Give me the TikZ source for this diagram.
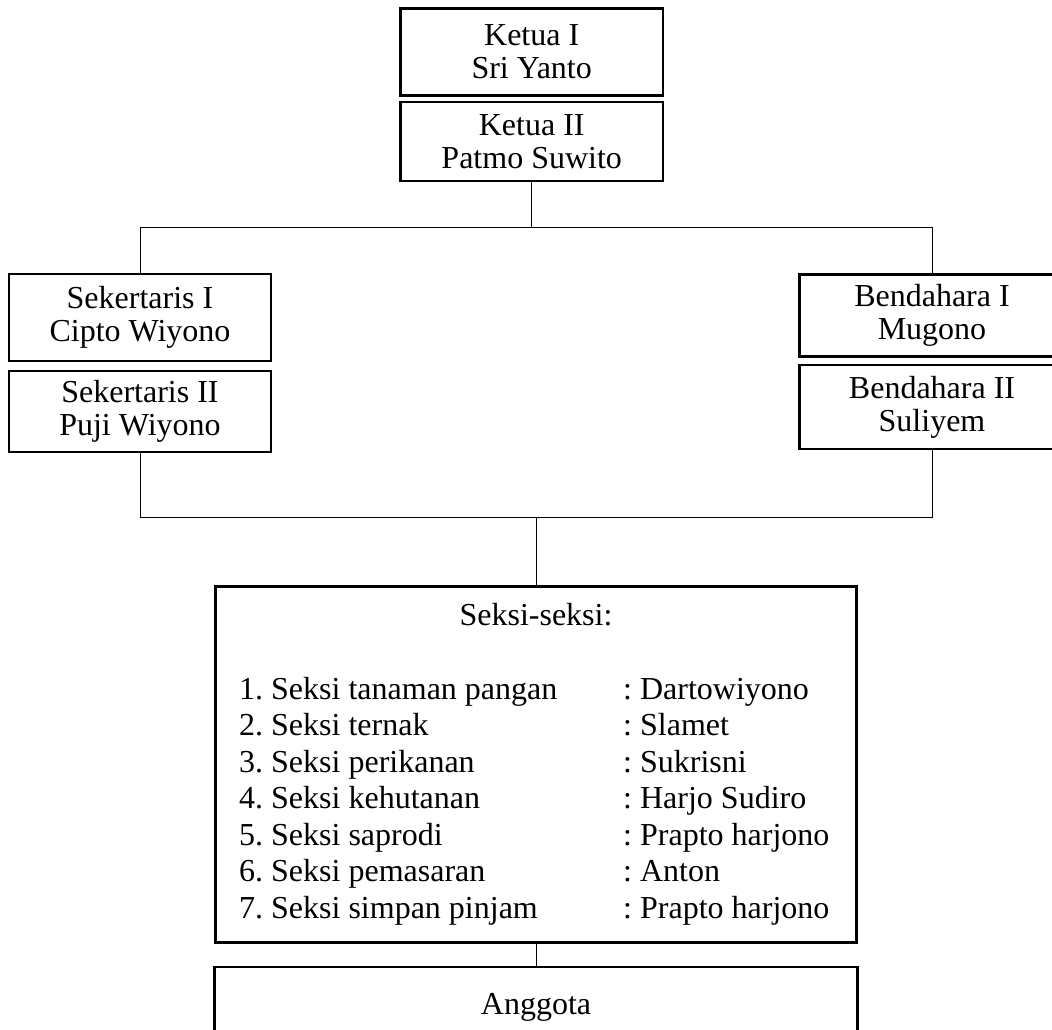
\documentclass[tikz,border=0pt]{standalone}
\usepackage{fontspec}
\setmainfont{Liberation Serif}
\frenchspacing
\begin{document}
\begin{tikzpicture}[x=1pt,y=-1pt,
  box/.style={draw, line width=2.6pt, inner sep=0pt, align=center, font=\fontsize{32}{33}\selectfont},
  conn/.style={line width=1pt},
  txt/.style={inner sep=0pt, font=\fontsize{32}{33}\selectfont}]
\useasboundingbox (0,0) rectangle (1052,1029);
% boxes
\node[box, minimum width=262.5pt, minimum height=87pt] (k1) at (531.7,52) {Ketua I\\Sri Yanto};
\node[box, minimum width=262.5pt, minimum height=79pt] (k2) at (531.7,141.5) {Ketua II\\Patmo Suwito};
\node[box, minimum width=262pt, minimum height=87pt] (s1) at (140,317.5) {Sekertaris I\\Cipto Wiyono};
\node[box, minimum width=262pt, minimum height=81pt] (s2) at (140,411.5) {Sekertaris II\\Puji Wiyono};
\node[box, minimum width=265pt, minimum height=82pt] (b1) at (932,315.5) {Bendahara I\\Mugono};
\node[box, minimum width=265pt, minimum height=84pt] (b2) at (932,407) {Bendahara II\\Suliyem};
\node[box, minimum width=641pt, minimum height=356pt] (seksi) at (536,764.5) {};
\node[box, minimum width=643pt, minimum height=80pt] (ang) at (536,1007) {};
% texts inside the Seksi box
\node[txt, anchor=base] (st) at (536,625) {Seksi-seksi:};
\foreach \i/\a/\b in {0/1. Seksi tanaman pangan/: Dartowiyono,
                      1/2. Seksi ternak/: Slamet,
                      2/3. Seksi perikanan/: Sukrisni,
                      3/4. Seksi kehutanan/: Harjo Sudiro,
                      4/5. Seksi saprodi/: Prapto harjono,
                      5/6. Seksi pemasaran/: Anton,
                      6/7. Seksi simpan pinjam/: Prapto harjono}{
  \node[txt, anchor=base west] (l\i) at (239,699+36.5*\i) {\a};
  \node[txt, anchor=base west] (r\i) at (623,699+36.5*\i) {\b};
}
\node[txt, anchor=base] (at) at (536,1014) {Anggota};
% connectors
\coordinate (ktop) at (531.7,227.5);
\coordinate (kbot) at (536,517.5);
\draw[conn] (k2.south) -- (ktop);
\draw[conn] (s1.north) |- (ktop) -| (b1.north);
\draw[conn] (s2.south) |- (kbot) -| (b2.south);
\draw[conn] (kbot) -- (seksi.north);
\draw[conn] (seksi.south) -- (ang.north);
\end{tikzpicture}
\end{document}
